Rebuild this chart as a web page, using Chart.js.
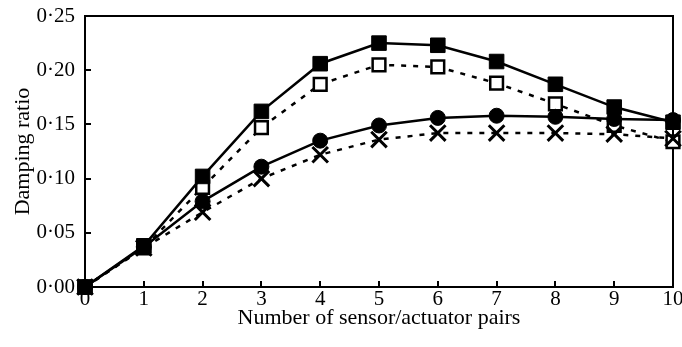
<!DOCTYPE html>
<html>
<head>
<meta charset="utf-8">
<script src="https://cdn.jsdelivr.net/npm/chart.js@4.4.0/dist/chart.umd.min.js"></script>
<style>
html,body{margin:0;padding:0;background:#fff;}
#wrap{width:682px;height:347px;}
</style>
</head>
<body>
<div id="wrap"><canvas id="c" width="682" height="347"></canvas></div>
<script>
const pairs = [0, 1, 2, 3, 4, 5, 6, 7, 8, 9, 10];
const filledSquare = [0, 0.038, 0.102, 0.162, 0.206, 0.225, 0.223, 0.208, 0.187, 0.166, 0.152];
const openSquare   = [0, 0.036, 0.092, 0.147, 0.187, 0.205, 0.203, 0.188, 0.169, 0.149, 0.134];
const filledCircle = [0, 0.037, 0.079, 0.111, 0.135, 0.149, 0.156, 0.158, 0.157, 0.155, 0.154];
const crosses      = [0, 0.036, 0.069, 0.100, 0.122, 0.136, 0.142, 0.142, 0.142, 0.141, 0.137];
const yTicks = [0, 0.05, 0.10, 0.15, 0.20, 0.25];

const FONT = "'Liberation Serif', 'Times New Roman', serif";
const FS = 21;
const pts = arr => arr.map((v, i) => ({x: pairs[i], y: v}));

const framePlugin = {
  id: 'frame',
  beforeDatasetsDraw(chart) {
    const {ctx, chartArea: a, scales} = chart;
    ctx.save();
    ctx.strokeStyle = '#000';
    ctx.lineWidth = 2;
    ctx.strokeRect(a.left, a.top, a.right - a.left, a.bottom - a.top);
    const ys = scales.y;
    ys.ticks.forEach((t, i) => {
      const p = Math.round(ys.getPixelForTick(i));
      ctx.beginPath(); ctx.moveTo(a.left, p); ctx.lineTo(a.left + 6, p); ctx.stroke();
    });
    const xs = scales.x;
    xs.ticks.forEach((t, i) => {
      const p = Math.round(xs.getPixelForTick(i));
      ctx.beginPath(); ctx.moveTo(p, a.bottom); ctx.lineTo(p, a.bottom - 6); ctx.stroke();
    });
    ctx.restore();
  }
};

const common = {borderColor: '#000', borderWidth: 2.5, clip: false};

new Chart(document.getElementById('c'), {
  type: 'line',
  data: {
    datasets: [
      {...common, data: pts(filledSquare),
       pointStyle: 'rect', pointRadius: 10.3, pointBorderWidth: 1, pointBackgroundColor: '#000', pointBorderColor: '#000'},
      {...common, data: pts(filledCircle),
       pointStyle: 'circle', pointRadius: 7.5, pointBorderWidth: 1, pointBackgroundColor: '#000', pointBorderColor: '#000'},
      {...common, data: pts(crosses), borderDash: [5, 7],
       pointStyle: 'crossRot', pointRadius: 11, pointBorderWidth: 3, pointBorderColor: '#000'},
      {...common, data: pts(openSquare), borderDash: [5, 7],
       pointStyle: 'rect', pointRadius: 9, pointBorderWidth: 2.5, pointBackgroundColor: '#fff', pointBorderColor: '#000'}
    ]
  },
  options: {
    responsive: false,
    animation: false,
    events: [],
    layout: {autoPadding: false, padding: {top: 16, right: 9, left: 0, bottom: 0}},
    plugins: {legend: {display: false}, tooltip: {enabled: false}},
    elements: {line: {tension: 0, fill: false}},
    scales: {
      x: {
        type: 'linear', min: 0, max: 10,
        afterFit: s => { s.height = 60; s.paddingLeft = 0; s.paddingRight = 0; },
        grid: {display: false, drawTicks: false},
        border: {display: false},
        ticks: {stepSize: 1, padding: 0, color: '#000', font: {family: FONT, size: FS}},
        title: {display: true, text: 'Number of sensor/actuator pairs', color: '#000',
                font: {family: FONT, size: 22}, padding: {top: 0, bottom: 16}}
      },
      y: {
        min: 0, max: 0.25,
        afterFit: s => { s.width = 85; s.paddingTop = 0; s.paddingBottom = 0; },
        afterBuildTicks: s => {
          const t = [];
          for (let i = 0; i <= 10; i++) t.push({value: Math.round(i * 0.025 * 1000) / 1000});
          s.ticks = t;
        },
        grid: {display: false, drawTicks: false},
        border: {display: false},
        ticks: {
          padding: 10, color: '#000', font: {family: FONT, size: FS},
          callback: v => {
            const hit = yTicks.find(t => Math.abs(t - v) < 1e-6);
            return hit === undefined ? '' : hit.toFixed(2).replace('.', '\u00B7');
          }
        },
        title: {display: true, text: 'Damping ratio', color: '#000',
                font: {family: FONT, size: 22}, padding: {top: 10, bottom: 0}}
      }
    }
  },
  plugins: [framePlugin]
});
</script>
</body>
</html>
